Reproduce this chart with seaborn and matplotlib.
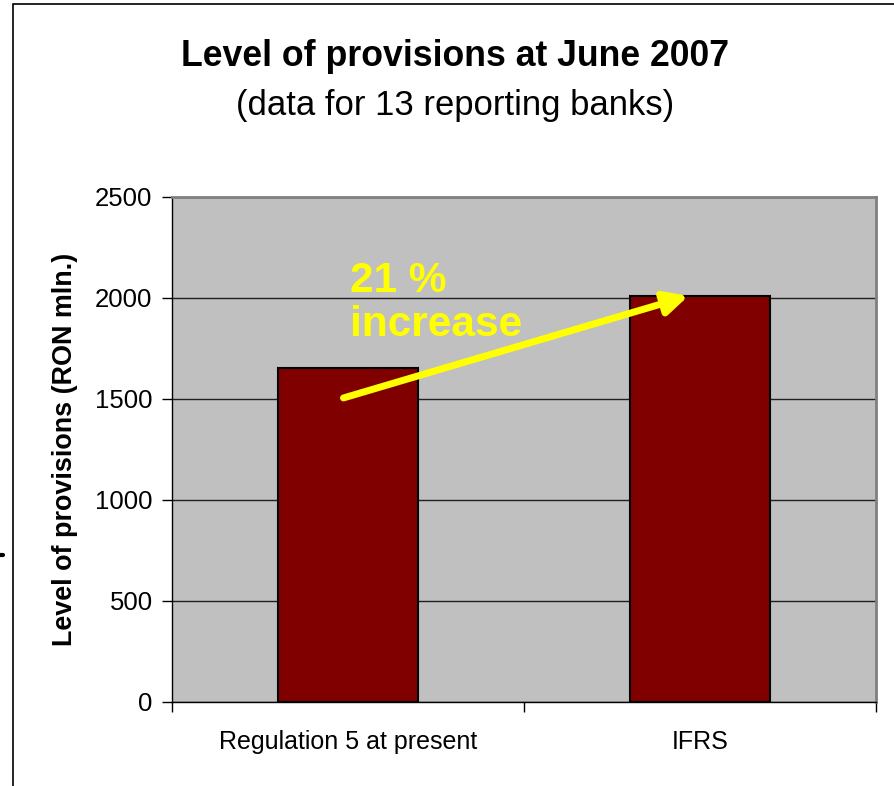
import matplotlib
matplotlib.use("Agg")
import matplotlib.pyplot as plt
import seaborn as sns
import pandas as pd
from matplotlib.patches import Rectangle
from matplotlib.lines import Line2D

categories = ["Regulation 5 at present", "IFRS"]
provisions = [1655, 2010]
yticks = [0, 500, 1000, 1500, 2000, 2500]

sns.set_style("white")
plt.rcParams['font.family'] = ['Liberation Sans', 'DejaVu Sans']
plt.rcParams['text.color'] = 'black'
plt.rcParams['axes.labelcolor'] = 'black'
plt.rcParams['xtick.color'] = 'black'
plt.rcParams['ytick.color'] = 'black'

df = pd.DataFrame({"cat": categories, "val": provisions})

fig = plt.figure(figsize=(8.95, 7.86), dpi=100)
ax = fig.add_axes([0.1922, 0.1069, 0.7866, 0.6425])
sns.barplot(data=df, x="cat", y="val", ax=ax, color="#800000", width=0.4,
            edgecolor="black", linewidth=1.5, saturation=1, zorder=3)

ax.set_facecolor("#c0c0c0")
ax.set_ylim(0, 2500)
ax.set_xlim(-0.5, 1.5)
ax.set_yticks(yticks)
ax.set_yticklabels([str(t) for t in yticks], fontsize=18.5)
ax.yaxis.grid(True, color="#202020", linewidth=1.0, zorder=1)
ax.set_axisbelow(True)
ax.tick_params(axis="y", direction="out", length=7, width=1, color="black", left=True, pad=7)
ax.set_xticks([0, 1])
ax.set_xticklabels(categories, fontsize=18)
ax.tick_params(axis="x", which="major", length=0, pad=20)
ax.set_xticks([-0.5, 0.5, 1.5], minor=True)
ax.tick_params(axis="x", which="minor", direction="out", length=7, width=1, color="black", bottom=True)
ax.set_xlabel("")
ax.set_ylabel("Level of provisions (RON mln.)", fontsize=19.4, fontweight="bold", labelpad=12)

for side in ["top", "right"]:
    ax.spines[side].set_color("#808080")
    ax.spines[side].set_linewidth(2)
for side in ["left", "bottom"]:
    ax.spines[side].set_color("black")
    ax.spines[side].set_linewidth(1)

# arrow and annotation
ax.annotate("", xy=(0.967, 2010), xytext=(-0.013, 1505),
            arrowprops=dict(arrowstyle="-|>,head_length=1.4,head_width=0.7",
                            color="#ffff00", lw=5, shrinkA=0, shrinkB=0),
            zorder=5)
ax.text(0.005, 2185, "21 %\nincrease", color="#ffff00", fontsize=30.5,
        fontweight="bold", ha="left", va="top", linespacing=1.15, zorder=6)

fig.text(0.508, 0.928, "Level of provisions at June 2007", fontsize=25.7,
         fontweight="bold", ha="center", va="center")
fig.text(0.508, 0.866, "(data for 13 reporting banks)", fontsize=24.9,
         ha="center", va="center")

# outer frame
fig.patches.append(Rectangle((13/895, -0.02), 1.05, 1 - 4/786 + 0.02,
                             transform=fig.transFigure, fill=False,
                             edgecolor="black", linewidth=1.2))
fig.lines.append(Line2D([0, 3/895], [1 - 555/786, 1 - 555/786],
                        transform=fig.transFigure, color="black", linewidth=3))

fig.savefig("out.png", dpi=100)
